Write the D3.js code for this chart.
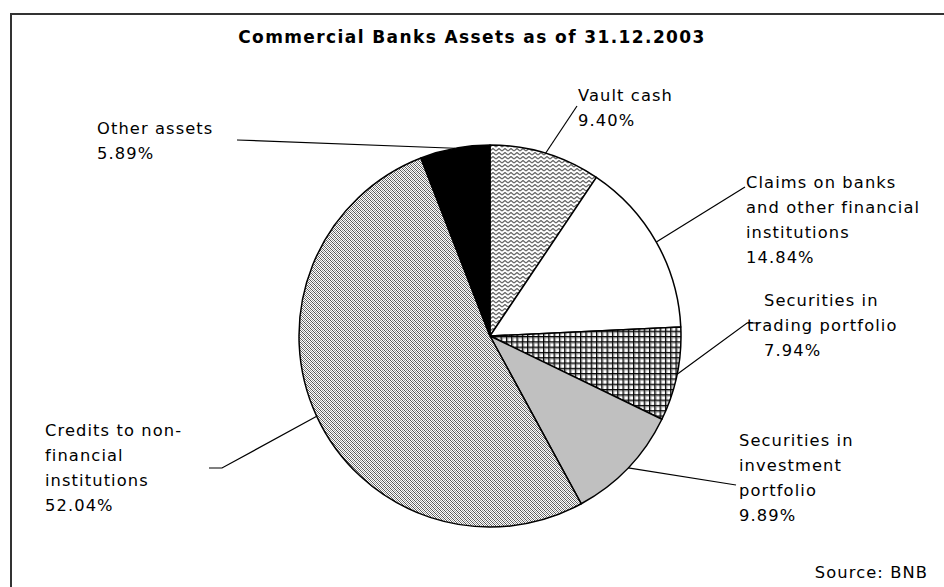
<!DOCTYPE html>
<html><head><meta charset="utf-8">
<script src="https://cdn.jsdelivr.net/npm/d3@7/dist/d3.min.js"></script>
<style>
body{margin:0;background:#fff;}
text{font-family:"DejaVu Sans",Verdana,sans-serif;fill:#000;}
</style></head>
<body><svg id="c" width="944" height="587"></svg>
<script>
const categories = ["Vault cash","Claims on banks and other financial institutions","Securities in trading portfolio","Securities in investment portfolio","Credits to non-financial institutions","Other assets"];
const values = [9.40, 14.84, 7.94, 9.89, 52.04, 5.89];
const labelLines = [
  ["Vault cash","9.40%"],
  ["Claims on banks","and other financial","institutions","14.84%"],
  ["Securities in","trading portfolio","7.94%"],
  ["Securities in","investment","portfolio","9.89%"],
  ["Credits to non-","financial","institutions","52.04%"],
  ["Other assets","5.89%"]
];
const title = "Commercial Banks Assets as of 31.12.2003";
const source = "Source:  BNB";

// layout
const cx = 490, cy = 336, r = 191;
const fills = ["url(#zig)","#ffffff","url(#grid)","#c0c0c0","url(#dots)","#000000"];
const labelPos = [
  {x:[578,578], y:101, lead:[[577,106]]},
  {x:[746,746,746,746], y:188, lead:[[745,187]]},
  {x:[764,747,764], y:306, lead:[[747,323],[760,323]]},
  {x:[739,739,739,739], y:446, lead:[[736,485]]},
  {x:[45,45,45,45], y:436, lead:[[222,468],[209,468]]},
  {x:[97,97], y:134, lead:[[237,140]]}
];
const lh = 25;

const svg = d3.select("#c");
const defs = svg.append("defs");
// zigzag
const pz = defs.append("pattern").attr("id","zig").attr("patternUnits","userSpaceOnUse").attr("width",6).attr("height",4);
pz.append("rect").attr("width",6).attr("height",4).attr("fill","#fff");
pz.append("path").attr("d","M0,3 L3,0.5 L6,3").attr("fill","none").attr("stroke","#666").attr("stroke-width",1.3);
// grid
const pg = defs.append("pattern").attr("id","grid").attr("patternUnits","userSpaceOnUse").attr("width",5.3).attr("height",5.3);
pg.append("rect").attr("width",6).attr("height",6).attr("fill","#fff");
pg.append("rect").attr("x",1).attr("width",1.2).attr("height",6).attr("fill","#888");
pg.append("rect").attr("y",1).attr("width",6).attr("height",1.2).attr("fill","#888");
pg.append("rect").attr("x",0).attr("width",1).attr("height",6).attr("fill","#000");
pg.append("rect").attr("y",0).attr("width",6).attr("height",1).attr("fill","#000");
// dots
const pd = defs.append("pattern").attr("id","dots").attr("patternUnits","userSpaceOnUse").attr("width",4).attr("height",4);
pd.append("rect").attr("width",4).attr("height",4).attr("fill","#fff");
[[0,0],[1,1],[2,2],[3,3],[2,0],[3,1],[0,2],[1,3]].forEach((p,i)=>{
  pd.append("rect").attr("x",p[0]).attr("y",p[1]).attr("width",1).attr("height",1).attr("fill", i<4?"#555":"#999");
});

// frame
svg.append("rect").attr("x",11).attr("y",14).attr("width",940).attr("height",590)
  .attr("fill","none").attr("stroke","#333").attr("stroke-width",2);

svg.append("text").attr("x",472).attr("y",43).attr("text-anchor","middle")
  .attr("font-weight","bold").attr("font-size",17).attr("letter-spacing",1.4).text(title);

const pie = d3.pie().sort(null).value(d=>d).startAngle(0).endAngle(2*Math.PI);
const arcs = pie(values);
const arc = d3.arc().innerRadius(0).outerRadius(r);
const g = svg.append("g").attr("transform",`translate(${cx},${cy})`);
g.selectAll("path").data(arcs).join("path")
  .attr("d",arc).attr("fill",(d,i)=>fills[i])
  .attr("stroke","#000").attr("stroke-width",1.5).attr("stroke-linejoin","round");

arcs.forEach((a,i)=>{
  const m = (a.startAngle+a.endAngle)/2;
  const sx = cx + r*Math.sin(m), sy = cy - r*Math.cos(m);
  const pts = [[sx,sy]].concat(labelPos[i].lead);
  svg.append("path").attr("d", d3.line()(pts)).attr("fill","none").attr("stroke","#000").attr("stroke-width",1.2);
  labelLines[i].forEach((t,j)=>{
    svg.append("text").attr("x",labelPos[i].x[j]).attr("y",labelPos[i].y + j*lh)
      .attr("font-size",16.3).attr("letter-spacing",1.1).text(t);
  });
});

svg.append("text").attr("x",928).attr("y",578).attr("text-anchor","end").attr("font-size",16.3).attr("letter-spacing",1.1).text(source);
</script></body></html>
